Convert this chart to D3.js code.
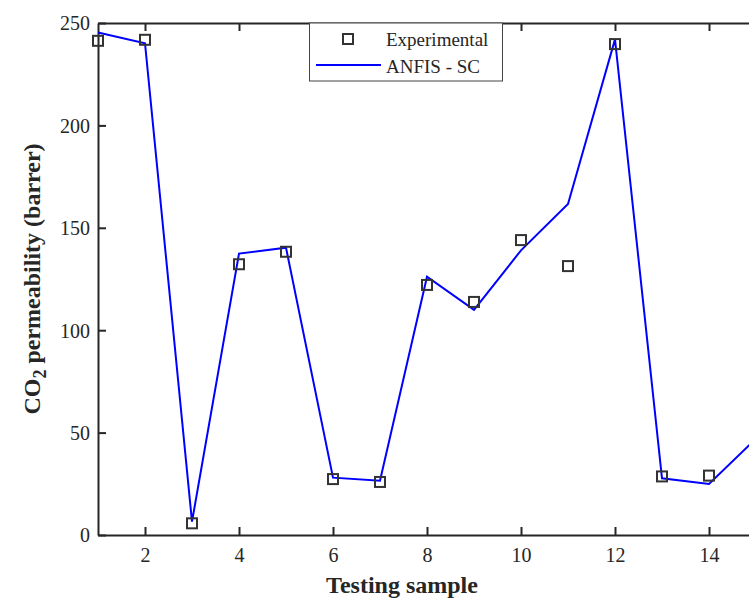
<!DOCTYPE html>
<html>
<head>
<meta charset="utf-8">
<script src="https://cdn.jsdelivr.net/npm/d3@7"></script>
<style>
  html, body { margin: 0; padding: 0; background: #ffffff; }
  svg { display: block; }
</style>
</head>
<body>
<div id="chart"></div>
<script>
// CO2 permeability - experimental vs ANFIS-SC, testing samples

// Data
var samples = [1, 2, 3, 4, 5, 6, 7, 8, 9, 10, 11, 12, 13, 14];
var experimental = [241.3, 241.8, 5.7, 132.2, 138.3, 27.3, 25.9, 122.1, 113.8, 144.0, 131.3, 239.7, 28.6, 29.0];
var anfisSamples = [1, 2, 3, 4, 5, 6, 7, 8, 9, 10, 11, 12, 13, 14, 15];
var anfis = [245.4, 240.1, 6.5, 137.4, 140.3, 28.0, 26.5, 126.1, 109.9, 139.0, 161.6, 242.0, 27.7, 24.9, 47.0];
var xTicks = [2, 4, 6, 8, 10, 12, 14];
var yTicks = [0, 50, 100, 150, 200, 250];
var legendLabels = ['Experimental', 'ANFIS - SC'];

var W = 749, H = 599;
var axisColor = '#262626';
var font = '"Liberation Serif", "Times New Roman", serif';

var x = d3.scaleLinear().domain([1, 15]).range([98, 756]);
var y = d3.scaleLinear().domain([0, 250]).range([535, 23]);

var svg = d3.select('#chart')
  .append('svg')
  .attr('width', W)
  .attr('height', H);

// Axes (box style, ticks pointing inward)
var xAxis = d3.axisBottom(x).tickValues(xTicks).tickSizeInner(-8).tickSizeOuter(0).tickPadding(13);
var yAxis = d3.axisLeft(y).tickValues(yTicks).tickSizeInner(-8).tickSizeOuter(0).tickPadding(8);
var xTop = d3.axisTop(x).tickValues(xTicks).tickSizeInner(-8).tickSizeOuter(0).tickFormat('');

function styleAxis(g) {
  g.select('.domain').attr('stroke', axisColor).attr('stroke-width', 2);
  g.selectAll('.tick line').attr('stroke', axisColor).attr('stroke-width', 2);
  g.selectAll('.tick text')
    .attr('fill', axisColor)
    .style('font-family', font)
    .style('font-size', '20px');
}

svg.append('g')
  .attr('transform', 'translate(0,' + y(0) + ')')
  .call(xAxis)
  .call(styleAxis);

svg.append('g')
  .attr('transform', 'translate(0,' + y(250) + ')')
  .call(xTop)
  .call(styleAxis);

svg.append('g')
  .attr('transform', 'translate(' + x(1) + ',0)')
  .call(yAxis)
  .call(styleAxis)
  .selectAll('.tick text')
  .attr('dy', '0.34em');

// ANFIS line
var line = d3.line()
  .x(function (d, i) { return x(anfisSamples[i]); })
  .y(function (d) { return y(d); });

svg.append('path')
  .datum(anfis)
  .attr('d', line)
  .attr('fill', 'none')
  .attr('stroke', '#0000ff')
  .attr('stroke-width', 2)
  .attr('stroke-linejoin', 'miter');

// Experimental squares
var sq = 10;
svg.selectAll('rect.exp')
  .data(experimental)
  .enter()
  .append('rect')
  .attr('class', 'exp')
  .attr('x', function (d, i) { return x(samples[i]) - sq / 2; })
  .attr('y', function (d) { return y(d) - sq / 2; })
  .attr('width', sq)
  .attr('height', sq)
  .attr('fill', 'none')
  .attr('stroke', '#333333')
  .attr('stroke-width', 2);

// Axis titles
svg.append('text')
  .attr('x', 402)
  .attr('y', 593)
  .attr('text-anchor', 'middle')
  .style('font-family', font)
  .style('font-weight', 'bold')
  .style('font-size', '24px')
  .attr('fill', axisColor)
  .text('Testing sample');

var yTitle = svg.append('text')
  .attr('transform', 'translate(40,279) rotate(-90)')
  .attr('text-anchor', 'middle')
  .style('font-family', font)
  .style('font-weight', 'bold')
  .style('font-size', '24px')
  .attr('fill', axisColor);
yTitle.append('tspan').text('CO');
yTitle.append('tspan').attr('dy', 6).style('font-size', '18px').text('2');
yTitle.append('tspan').attr('dy', -6).text(' permeability (barrer)');

// Legend
var legend = svg.append('g');
legend.append('rect')
  .attr('x', 309.5)
  .attr('y', 23)
  .attr('width', 193)
  .attr('height', 58)
  .attr('fill', '#ffffff')
  .attr('stroke', '#444444')
  .attr('stroke-width', 1);

legend.append('rect')
  .attr('x', 348 - sq / 2)
  .attr('y', 39 - sq / 2)
  .attr('width', sq)
  .attr('height', sq)
  .attr('fill', 'none')
  .attr('stroke', '#333333')
  .attr('stroke-width', 2);

legend.append('line')
  .attr('x1', 316)
  .attr('x2', 381)
  .attr('y1', 65)
  .attr('y2', 65)
  .attr('stroke', '#0000ff')
  .attr('stroke-width', 2);

legend.selectAll('text.leg')
  .data(legendLabels)
  .enter()
  .append('text')
  .attr('class', 'leg')
  .attr('x', 386)
  .attr('y', function (d, i) { return 46 + i * 27; })
  .style('font-family', font)
  .style('font-size', '19px')
  .attr('fill', '#262626')
  .text(function (d) { return d; });
</script>
</body>
</html>
